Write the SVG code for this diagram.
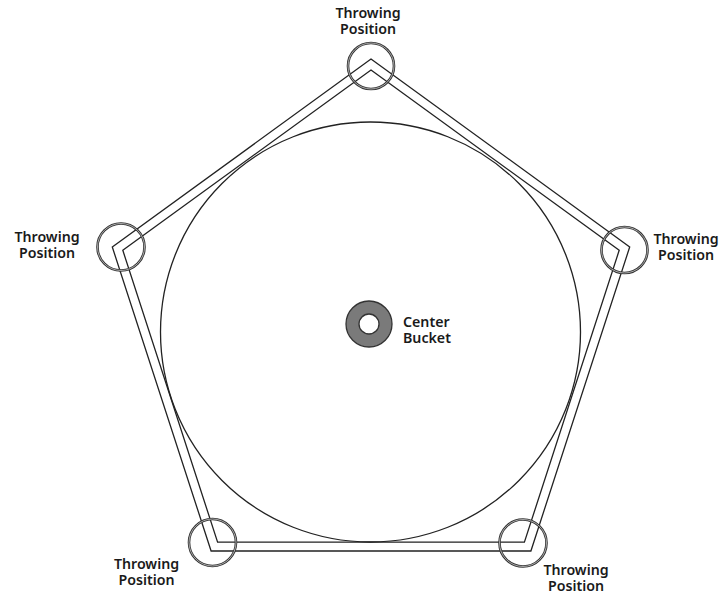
<svg xmlns="http://www.w3.org/2000/svg" width="720" height="597" viewBox="0 0 720 597">
<style>
.line{fill:none;stroke:#222;stroke-width:1.3;stroke-linejoin:miter}
.pos{fill:none;stroke:#333;stroke-width:2.6}
.posin{fill:none;stroke:#c8c8c8;stroke-width:0.8}
.lbl{font-family:"Noto Sans","Open Sans","Liberation Sans",sans-serif;font-size:14.2px;font-weight:600;fill:#1a1a1a;text-anchor:middle}
.lbl2{font-family:"Noto Sans","Open Sans","Liberation Sans",sans-serif;font-size:14.2px;font-weight:600;fill:#1a1a1a;text-anchor:start}
</style>
<rect width="720" height="597" fill="#fff"/>
<g id="connectors">
<circle class="line" cx="370.5" cy="332" r="210"/>
<polygon class="line" points="371,59 629.7,247 530.9,551 211.1,551 112.3,247"/>
<polygon class="line" points="371,70 619.2,250.3 524.4,542.2 217.6,542.2 122.8,250.3"/>
</g>
<g id="pos-top">
<circle class="pos" cx="371" cy="66" r="23"/><circle class="posin" cx="371" cy="66" r="23"/>
<text class="lbl" x="368" y="18">Throwing<tspan x="368" y="34">Position</tspan></text>
</g>
<g id="pos-right">
<circle class="pos" cx="624.5" cy="250" r="23"/><circle class="posin" cx="624.5" cy="250" r="23"/>
<text class="lbl" x="686" y="244">Throwing<tspan x="686" y="260">Position</tspan></text>
</g>
<g id="pos-bottom-right">
<circle class="pos" cx="523" cy="543" r="23.5"/><circle class="posin" cx="523" cy="543" r="23.5"/>
<text class="lbl" x="576" y="575">Throwing<tspan x="576" y="591">Position</tspan></text>
</g>
<g id="pos-bottom-left">
<circle class="pos" cx="212.5" cy="542.5" r="23.5"/><circle class="posin" cx="212.5" cy="542.5" r="23.5"/>
<text class="lbl" x="146.5" y="569">Throwing<tspan x="146.5" y="585">Position</tspan></text>
</g>
<g id="pos-left">
<circle class="pos" cx="121" cy="247" r="23.5"/><circle class="posin" cx="121" cy="247" r="23.5"/>
<text class="lbl" x="47" y="242">Throwing<tspan x="47" y="258">Position</tspan></text>
</g>
<g id="center-bucket">
<circle cx="369" cy="324" r="23" fill="#7a7a7a" stroke="#333" stroke-width="1.3"/>
<circle cx="369" cy="324" r="10" fill="#fff" stroke="#333" stroke-width="1.3"/>
<text class="lbl2" x="403" y="327">Center<tspan x="403" y="343">Bucket</tspan></text>
</g>
</svg>
